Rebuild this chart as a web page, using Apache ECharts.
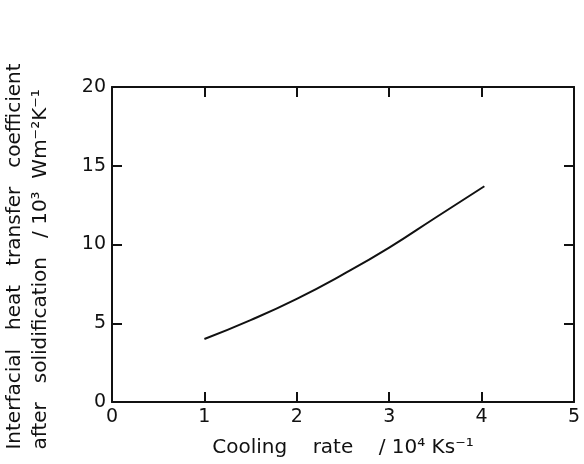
<!DOCTYPE html>
<html>
<head>
<meta charset="utf-8">
<script src="https://cdn.jsdelivr.net/npm/echarts@6/dist/echarts.min.js"></script>
<style>
  html, body { margin: 0; padding: 0; background: #fff; }
  #main { width: 584px; height: 464px; }
</style>
</head>
<body>
<div id="main"></div>
<script>
// values
var coolingRate = [1.0, 1.5, 2.0, 2.5, 3.0, 3.5, 4.03];
var heatCoeff = [4.0, 5.2, 6.55, 8.1, 9.8, 11.7, 13.7];
var xTicks = [0, 1, 2, 3, 4, 5];
var yTicks = [0, 5, 10, 15, 20];

var font = 'DejaVu Sans';
var ink = '#111';

var points = [];
for (var i = 0; i < coolingRate.length; i++) {
    points.push([coolingRate[i], heatCoeff[i]]);
}

var axisLine = { show: true, onZero: false, lineStyle: { color: ink, width: 2 } };
var tickIn = { show: true, inside: true, length: 10, lineStyle: { color: ink, width: 2 } };

var myChart = echarts.init(document.getElementById('main'));

option = {
    backgroundColor: '#fff',
    animation: false,
    grid: { left: 112, right: 10, top: 87, bottom: 62, containLabel: false, outerBoundsMode: 'none' },
    xAxis: [
        {
            type: 'value', min: xTicks[0], max: xTicks[xTicks.length - 1], interval: 1,
            axisLine: axisLine, axisTick: tickIn, splitLine: { show: false },
            axisLabel: { color: ink, fontFamily: font, fontSize: 19, margin: 6 },
            name: 'Cooling    rate    / 10⁴ Ks⁻¹',
            nameLocation: 'middle', nameGap: 36,
            nameTextStyle: { color: ink, fontFamily: font, fontSize: 20 }
        },
        {
            type: 'value', position: 'top', min: xTicks[0], max: xTicks[xTicks.length - 1], interval: 1,
            axisLine: axisLine, axisTick: tickIn, splitLine: { show: false },
            axisLabel: { show: false }
        }
    ],
    yAxis: [
        {
            type: 'value', min: yTicks[0], max: yTicks[yTicks.length - 1], interval: 5,
            axisLine: axisLine, axisTick: tickIn, splitLine: { show: false },
            axisLabel: { color: ink, fontFamily: font, fontSize: 19, margin: 6 },
            name: '{l|Interfacial   heat   transfer   coefficient}\n{l|after   solidification   / 10³  Wm⁻²K⁻¹}',
            nameLocation: 'middle', nameRotate: 90, nameGap: 58,
            nameTextStyle: {
                color: ink, fontFamily: font, fontSize: 20, lineHeight: 26, align: 'center',
                padding: [0, 24, 0, 0],
                rich: { l: { color: ink, fontFamily: font, fontSize: 20, lineHeight: 26, align: 'left' } }
            }
        },
        {
            type: 'value', position: 'right', min: yTicks[0], max: yTicks[yTicks.length - 1], interval: 5,
            axisLine: axisLine, axisTick: tickIn, splitLine: { show: false },
            axisLabel: { show: false }
        }
    ],
    series: [
        {
            type: 'line',
            data: points,
            smooth: 0.5,
            showSymbol: false,
            lineStyle: { color: ink, width: 2 }
        }
    ]
};

myChart.setOption(option);
</script>
</body>
</html>
